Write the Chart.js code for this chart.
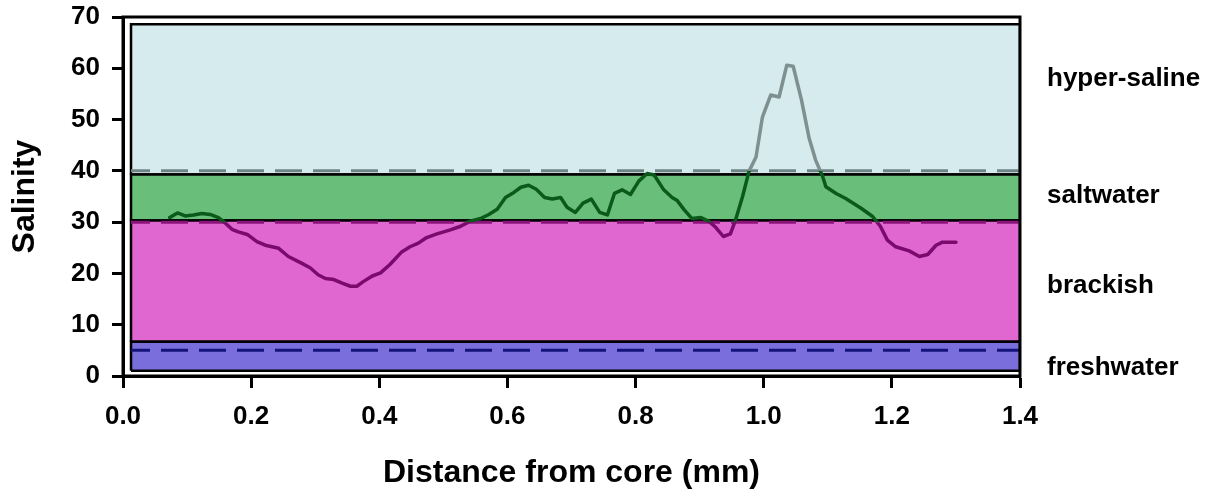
<!DOCTYPE html>
<html>
<head>
<meta charset="utf-8">
<script src="https://cdn.jsdelivr.net/npm/chart.js@4.4.1/dist/chart.umd.min.js"></script>
<style>html,body{margin:0;padding:0;background:#fff;}canvas{display:block;}</style>
</head>
<body>
<canvas id="chart" width="1220" height="492"></canvas>
<script>
// ---- data ----
const distance = [0.073,0.085,0.097,0.110,0.123,0.136,0.149,0.159,0.170,0.180,0.194,0.209,0.222,0.243,0.258,0.277,0.292,0.305,0.316,0.329,0.342,0.355,0.365,0.375,0.389,0.402,0.417,0.435,0.448,0.461,0.474,0.490,0.511,0.527,0.542,0.558,0.571,0.584,0.597,0.610,0.621,0.633,0.645,0.658,0.670,0.683,0.693,0.706,0.718,0.731,0.744,0.756,0.767,0.779,0.792,0.805,0.818,0.829,0.844,0.857,0.865,0.876,0.888,0.902,0.915,0.925,0.937,0.948,0.956,0.967,0.977,0.988,0.998,1.011,1.024,1.036,1.046,1.059,1.071,1.081,1.092,1.097,1.113,1.128,1.152,1.170,1.182,1.193,1.206,1.227,1.243,1.256,1.269,1.279,1.300];
const salinity = [30.9,31.8,31.2,31.4,31.7,31.5,30.9,29.9,28.6,28.1,27.6,26.2,25.5,24.9,23.3,22.1,21.1,19.7,19.0,18.8,18.1,17.5,17.5,18.4,19.5,20.1,21.8,24.2,25.2,25.9,27.0,27.7,28.5,29.2,30.2,30.7,31.5,32.5,34.8,35.8,36.8,37.2,36.4,34.8,34.5,34.8,32.9,31.9,33.7,34.5,31.9,31.4,35.6,36.3,35.4,38.0,39.5,39.2,36.3,34.8,34.2,32.4,30.7,30.9,30.1,29.0,27.2,27.7,30.4,35.0,39.9,42.7,50.5,54.8,54.4,60.6,60.4,53.8,46.3,42.1,38.9,36.9,35.6,34.6,32.7,31.1,29.2,26.5,25.2,24.4,23.3,23.7,25.5,26.1,26.1];
const xTickValues = [0.0,0.2,0.4,0.6,0.8,1.0,1.2,1.4];
const yTickValues = [0,10,20,30,40,50,60,70];
const zoneNames = ['hyper-saline','saltwater','brackish','freshwater'];
const zoneLow  = [39.3, 30.3, 6.7, 1.0];
const zoneHigh = [68.6, 39.3, 30.3, 6.7];
const zoneFrom = 0.0125, zoneTo = 1.4;
const thresholdValues = [40, 30, 5];
const bandLow  = [40, 30, 0];
const bandHigh = [70, 40, 30];

// ---- styles ----
const FONT = '"Liberation Sans", Arial, sans-serif';
const zoneColors = ['#D6EBEE','#69BF7A','#E066D0','#7A6EDC'];
const thresholdColors = ['#6F8585','#8A157A','#14147A'];
const lineColors = ['#7E9090','#0B5A1C','#7A0A6C'];
const labelAnchor = [56.5, 33.7, 16.2, 0.2];

const datasets = [];
zoneNames.forEach((name, i) => {
  const lo = zoneLow[i], hi = zoneHigh[i];
  datasets.push({
    label: name,
    data: [{x: zoneFrom, y: lo}, {x: zoneFrom, y: hi}, {x: zoneTo, y: hi}, {x: zoneTo, y: lo}, {x: zoneFrom, y: lo}],
    showLine: true, fill: 'shape', backgroundColor: zoneColors[i],
    borderColor: '#000', borderWidth: 2.5, pointRadius: 0, tension: 0,
    order: 20 - i
  });
});
thresholdValues.forEach((t, i) => {
  datasets.push({
    label: 'threshold ' + t,
    data: [{x: zoneFrom, y: t}, {x: zoneTo, y: t}],
    showLine: true, fill: false, borderColor: thresholdColors[i], borderWidth: 3,
    borderDash: [27, 11], borderDashOffset: 8, pointRadius: 0, order: 10
  });
});
const points = distance.map((d, i) => ({x: d, y: salinity[i]}));
bandLow.forEach((lo, i) => {
  datasets.push({
    label: 'salinity band ' + i,
    data: points, showLine: true, fill: false, borderColor: lineColors[i],
    borderWidth: 3.5, pointRadius: 0, tension: 0, order: 1,
    borderJoinStyle: 'round', borderCapStyle: 'round',
    band: [lo, bandHigh[i]]
  });
});

const bandClip = {
  id: 'bandClip',
  beforeDatasetDraw(chart, args) {
    const ds = chart.data.datasets[args.index];
    if (!ds.band) return;
    const y = chart.scales.y, a = chart.chartArea, ctx = chart.ctx;
    const top = y.getPixelForValue(ds.band[1]);
    const bottom = y.getPixelForValue(ds.band[0]);
    ctx.save();
    ctx.beginPath();
    ctx.rect(a.left, top, a.right - a.left, bottom - top);
    ctx.clip();
  },
  afterDatasetDraw(chart, args) {
    const ds = chart.data.datasets[args.index];
    if (ds.band) chart.ctx.restore();
  }
};

const frameAndLabels = {
  id: 'frameAndLabels',
  afterDraw(chart) {
    const ctx = chart.ctx, a = chart.chartArea, y = chart.scales.y;
    ctx.save();
    ctx.strokeStyle = '#000';
    ctx.lineWidth = 3;
    ctx.strokeRect(a.left, a.top, a.right - a.left, a.bottom - a.top);
    ctx.fillStyle = '#000';
    ctx.font = 'bold 26px ' + FONT;
    ctx.textAlign = 'left';
    ctx.textBaseline = 'alphabetic';
    zoneNames.forEach((n, i) => {
      ctx.fillText(n, a.right + 27, y.getPixelForValue(labelAnchor[i]));
    });
    ctx.restore();
  }
};

new Chart(document.getElementById('chart'), {
  type: 'scatter',
  data: { datasets },
  plugins: [bandClip, frameAndLabels],
  options: {
    responsive: false,
    devicePixelRatio: 1,
    animation: false,
    layout: { padding: { top: 17, right: 200, bottom: 0, left: 0 } },
    plugins: { legend: { display: false }, tooltip: { enabled: false } },
    scales: {
      x: {
        type: 'linear', min: 0, max: 1.4,
        afterBuildTicks: s => { s.ticks = xTickValues.map(v => ({value: v})); },
        afterFit: s => { s.height = 116; },
        ticks: { callback: v => v.toFixed(1), color: '#000', padding: 13,
                 font: { family: FONT, size: 26, weight: 'bold' } },
        grid: { display: true, drawOnChartArea: false, drawTicks: true, tickLength: 12,
                tickWidth: 3, tickColor: '#000' },
        border: { display: true, color: '#000', width: 3 },
        title: { display: true, text: 'Distance from core (mm)', color: '#000',
                 font: { family: FONT, size: 32, weight: 'bold' }, padding: { top: 0, bottom: 0 } }
      },
      y: {
        type: 'linear', min: 0, max: 70,
        afterBuildTicks: s => { s.ticks = yTickValues.map(v => ({value: v})); },
        afterFit: s => { s.width = 123; s.paddingTop = 0; s.paddingBottom = 0; },
        ticks: { color: '#000', padding: 12,
                 font: { family: FONT, size: 26, weight: 'bold' } },
        grid: { display: true, drawOnChartArea: false, drawTicks: true, tickLength: 11,
                tickWidth: 3, tickColor: '#000' },
        border: { display: true, color: '#000', width: 3 },
        title: { display: true, text: 'Salinity', color: '#000',
                 font: { family: FONT, size: 32, weight: 'bold' }, padding: { top: 6, bottom: 0 } }
      }
    }
  }
});
</script>
</body>
</html>
